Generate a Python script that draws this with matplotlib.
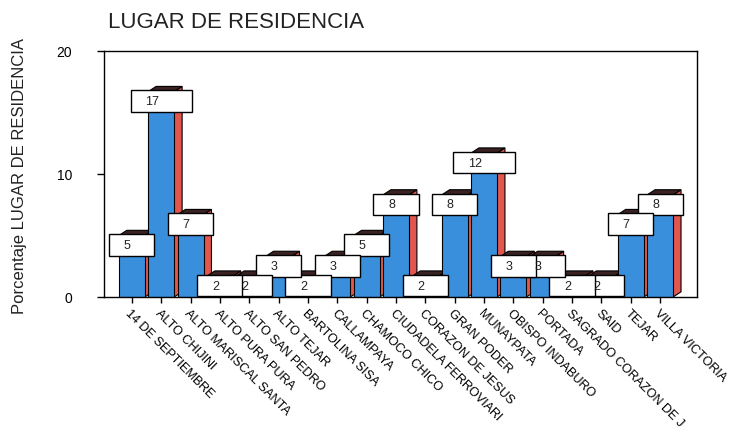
import matplotlib.pyplot as plt
from matplotlib.patches import Rectangle, Polygon

barrios = [
    "14 DE SEPTIEMBRE", "ALTO CHIJINI", "ALTO MARISCAL SANTA", "ALTO PURA PURA",
    "ALTO SAN PEDRO", "ALTO TEJAR", "BARTOLINA SISA", "CALLAMPAYA",
    "CHAMOCO CHICO", "CIUDADELA FERROVIARI", "CORAZON DE JESUS", "GRAN PODER",
    "MUNAYPATA", "OBISPO INDABURO", "PORTADA", "SAGRADO CORAZON DE J",
    "SAID", "TEJAR", "VILLA VICTORIA",
]
porcentaje = [5.0, 16.7, 6.7, 1.7, 1.7, 3.3, 1.7, 3.3, 5.0, 8.3,
              1.7, 8.3, 11.7, 3.3, 3.3, 1.7, 1.7, 6.7, 8.3]
yticks = [0, 10, 20]

plt.rcParams["font.family"] = ["Liberation Sans", "DejaVu Sans"]

FRONT = "#3a8fdc"
SIDE = "#e2564e"
TOP = "#3b2222"

fig = plt.figure(figsize=(7.4, 4.31), dpi=100)
ax = fig.add_axes([0.1405, 0.3086, 0.8015, 0.5708])
ax.set_xlim(-0.95, len(barrios) - 1 + 1.26)
ax.set_ylim(0, 20)

hw = 0.443   # half width of the front face
dx, dy = 0.27, 0.42  # depth of the 3d block

# bars left to right so each one hides the side of the previous
for i, v in enumerate(porcentaje):
    x0, x1 = i - hw, i + hw
    front = Rectangle((x0, 0), 2 * hw, v, facecolor=FRONT,
                      edgecolor="black", linewidth=0.8, zorder=2)
    side = Polygon([(x1, 0), (x1 + dx, dy), (x1 + dx, v + dy), (x1, v)],
                   closed=True, facecolor=SIDE, edgecolor="black",
                   linewidth=0.8, zorder=2)
    top = Polygon([(x0, v), (x0 + dx, v + dy), (x1 + dx, v + dy), (x1, v)],
                  closed=True, facecolor=TOP, edgecolor="black",
                  linewidth=0.8, zorder=2)
    ax.add_patch(side)
    ax.add_patch(front)
    ax.add_patch(top)

# value boxes, right to left so the left box sits on top
box_h = 1.75
for i in range(len(porcentaje) - 1, -1, -1):
    v = porcentaje[i]
    label = f"{v:.0f}"
    half = 0.77 if len(label) == 1 else 1.04
    btop = v + 0.1
    box = Rectangle((i - half, btop - box_h), 2 * half, box_h,
                    facecolor="white", edgecolor="black", linewidth=1.0,
                    zorder=5, clip_on=False)
    ax.add_patch(box)
    ax.text(i - half + 0.5, btop - box_h / 2, label, ha="left", va="center",
            fontsize=9, color="#222222", zorder=6, clip_on=False)

ax.set_xticks(range(len(barrios)))
ax.set_xticklabels(barrios, rotation=-45, ha="left", va="top",
                   rotation_mode="anchor", fontsize=9.1)
ax.set_yticks(yticks)
ax.set_yticklabels([str(t) for t in yticks], fontsize=10)
ax.tick_params(axis="y", length=5, pad=18, width=1)
ax.tick_params(axis="x", length=4, pad=3, width=1)
for s in ax.spines.values():
    s.set_linewidth(1.0)

fig.text(108 / 740, 1 - 22 / 431, "LUGAR DE RESIDENCIA", fontsize=16,
         va="center", ha="left", color="#222222")
fig.text(20 / 740, 1 - 176 / 431, "Porcentaje LUGAR DE RESIDENCIA",
         rotation=90, fontsize=12, va="center", ha="center", color="#222222")

fig.savefig("out.png", dpi=100)
